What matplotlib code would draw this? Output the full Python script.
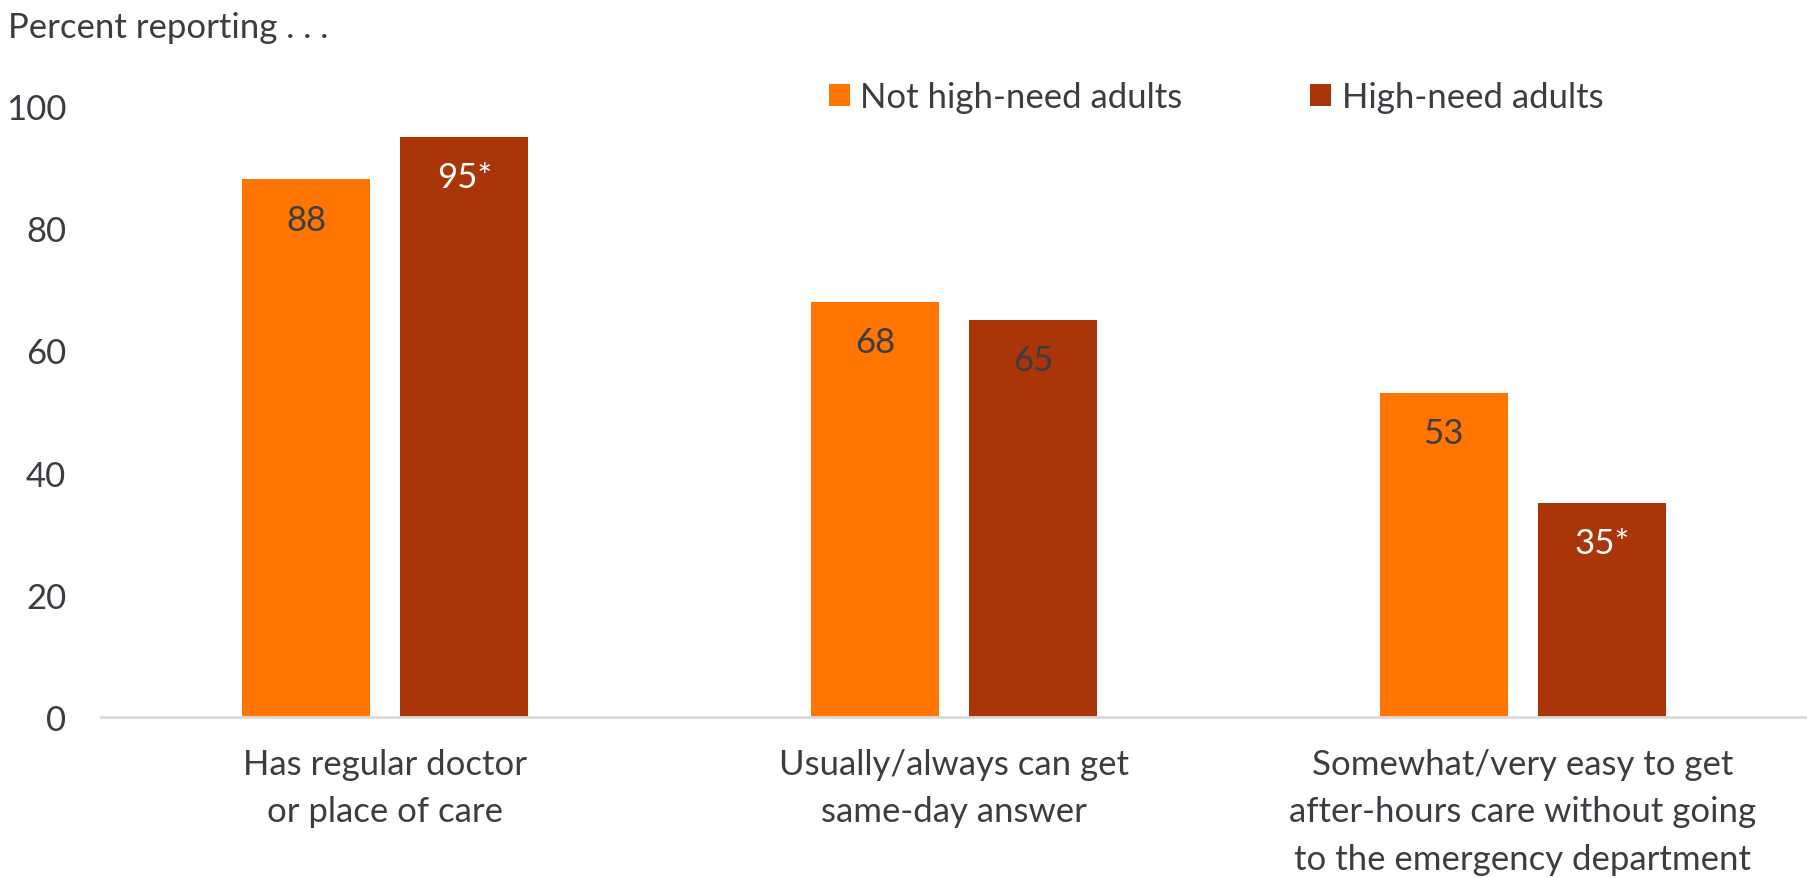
import matplotlib
matplotlib.use("Agg")
import matplotlib.pyplot as plt
import numpy as np

# Survey results: share of adults reporting each access measure
categories = [
    "Has regular doctor\nor place of care",
    "Usually/always can get\nsame-day answer",
    "Somewhat/very easy to get\nafter-hours care without going\nto the emergency department",
]
series_names = ["Not high-need adults", "High-need adults"]
not_high_need = [88, 68, 53]
high_need = [95, 65, 35]
not_high_need_labels = ["88", "68", "53"]
high_need_labels = ["95*", "65", "35*"]
y_ticks = [0, 20, 40, 60, 80, 100]

ORANGE = "#FF7500"
RUST = "#AA3508"
TEXT = "#3a3e42"
FONT = ["Lato", "DejaVu Sans"]
FS = 25

plt.rcParams["font.family"] = FONT

W, H, DPI = 1807, 879, 100
fig = plt.figure(figsize=(W / DPI, H / DPI), dpi=DPI)
ax = fig.add_axes([101 / W, 1 - 718 / H, 1 - 101 / W, (718 - 107) / H])

x = np.arange(len(categories))
bw = 0.225
off = 0.139

bars1 = ax.bar(x - off, not_high_need, bw, color=ORANGE, label=series_names[0], zorder=2)
bars2 = ax.bar(x + off, high_need, bw, color=RUST, label=series_names[1], zorder=2)

def label_bars(bars, labels):
    for rect, lab in zip(bars, labels):
        color = "white" if lab.endswith("*") else TEXT
        ax.annotate(lab, xy=(rect.get_x() + rect.get_width() / 2, rect.get_height()),
                    xytext=(0, -29), textcoords="offset points",
                    ha="center", va="center", fontsize=FS, color=color, zorder=3)

label_bars(bars1, not_high_need_labels)
label_bars(bars2, high_need_labels)

ax.set_xlim(-0.5, 2.5)
ax.set_ylim(0, 100)
ax.set_yticks(y_ticks)
ax.set_yticklabels([str(t) for t in y_ticks], fontsize=FS, color=TEXT)
ax.set_xticks(x)
ax.set_xticklabels(categories, fontsize=FS, color=TEXT, linespacing=1.6)
ax.tick_params(axis="y", length=0, pad=25)
ax.tick_params(axis="x", length=0, pad=22)

for side in ["top", "right", "left"]:
    ax.spines[side].set_visible(False)
ax.spines["bottom"].set_color("#d9d9d9")
ax.spines["bottom"].set_linewidth(2)

fig.text(8 / W, 1 - 28 / H, "Percent reporting . . .", fontsize=FS, color=TEXT,
         ha="left", va="center")

leg = ax.legend(loc="center left", bbox_to_anchor=(829 / W, 1 - 98 / H),
                bbox_transform=fig.transFigure, ncol=2, frameon=False,
                fontsize=FS, handlelength=0.6, handleheight=0.6,
                handletextpad=0.3, columnspacing=3.68, borderpad=0, borderaxespad=0)
for t in leg.get_texts():
    t.set_color(TEXT)

fig.savefig("out.png", dpi=DPI)
